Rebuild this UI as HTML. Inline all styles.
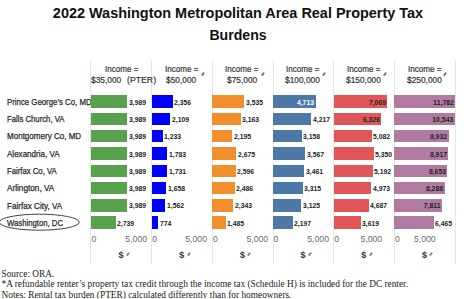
<!DOCTYPE html>
<html><head><meta charset="utf-8"><style>
html,body{margin:0;padding:0;background:#fff;width:474px;height:299px;overflow:hidden;position:relative}
.a{position:absolute;white-space:nowrap;line-height:1}
.t{font-family:"Liberation Sans",sans-serif;font-weight:bold;font-size:15px;color:#111;transform:scaleX(0.963);transform-origin:238px 0;left:0;width:476px;text-align:center}
.rl{font-family:"Liberation Sans",sans-serif;font-size:8.7px;color:#2a2a2a;-webkit-text-stroke:0.25px #2a2a2a;transform:scaleX(0.89);transform-origin:0 0;left:7px}
.hd{font-family:"Liberation Sans",sans-serif;font-size:8.8px;color:#333;-webkit-text-stroke:0.2px #333;transform-origin:0 0}
.bar{position:absolute}
.lb{font-family:"Liberation Sans",sans-serif;font-weight:bold;font-size:7.6px;color:#222;transform:scaleX(0.9);transform-origin:0 0}
.lbr{font-family:"Liberation Sans",sans-serif;font-weight:bold;font-size:7.6px;color:#222;transform:scaleX(0.9);transform-origin:100% 0;text-align:right}
.ax{font-family:"Liberation Sans",sans-serif;font-size:8.7px;color:#6a6a6a}
.vl{position:absolute;width:1px;background:#e6e6e6}
.fn{font-family:"Liberation Serif",serif;font-size:9.33px;color:#222;left:1.5px}
.dl{font-family:"Liberation Sans",sans-serif;font-weight:bold;font-size:9px;color:#333}
.ic{position:absolute;width:1.6px;height:4px;background:#777;transform:rotate(40deg);border-radius:0.8px}
</style></head><body>

<div class="a t" style="top:5px">2022 Washington Metropolitan Area Real Property Tax</div>
<div class="a t" style="top:27px;transform:scaleX(0.94)">Burdens</div>
<div class="vl" style="left:90.4px;top:60px;height:204px"></div>
<div class="vl" style="left:151.1px;top:60px;height:204px"></div>
<div class="vl" style="left:211.8px;top:60px;height:204px"></div>
<div class="vl" style="left:272.5px;top:60px;height:204px"></div>
<div class="vl" style="left:333.2px;top:60px;height:204px"></div>
<div class="vl" style="left:393.9px;top:60px;height:204px"></div>
<div class="vl" style="left:454.6px;top:60px;height:204px"></div>
<div class="a hd" style="left:104.6px;top:64.7px;transform:scaleX(0.915)">Income =</div>
<div class="a hd" style="left:91.0px;top:75.7px;transform:scaleX(0.95)">$35,000</div>
<div class="a hd" style="left:127.0px;top:75.7px;transform:scaleX(0.99)">(PTER)</div>
<div class="a hd" style="left:164.7px;top:64.7px;transform:scaleX(0.915)">Income =</div>
<div class="a hd" style="left:166.2px;top:75.7px;transform:scaleX(0.95)">$50,000</div>
<div class="ic" style="left:201.5px;top:72px"></div>
<div class="a hd" style="left:225.4px;top:64.7px;transform:scaleX(0.915)">Income =</div>
<div class="a hd" style="left:226.9px;top:75.7px;transform:scaleX(0.95)">$75,000</div>
<div class="ic" style="left:262.1px;top:72px"></div>
<div class="a hd" style="left:286.1px;top:64.7px;transform:scaleX(0.915)">Income =</div>
<div class="a hd" style="left:285.3px;top:75.7px;transform:scaleX(0.95)">$100,000</div>
<div class="ic" style="left:322.9px;top:72px"></div>
<div class="a hd" style="left:346.8px;top:64.7px;transform:scaleX(0.915)">Income =</div>
<div class="a hd" style="left:346.0px;top:75.7px;transform:scaleX(0.95)">$150,000</div>
<div class="ic" style="left:383.6px;top:72px"></div>
<div class="a hd" style="left:407.5px;top:64.7px;transform:scaleX(0.915)">Income =</div>
<div class="a hd" style="left:406.7px;top:75.7px;transform:scaleX(0.95)">$250,000</div>
<div class="ic" style="left:444.2px;top:72px"></div>
<div class="a rl" style="top:97.9px;transform:scaleX(0.9)">Prince George’s Co, MD</div>
<div class="bar" style="left:90.9px;top:95.4px;width:36.2px;height:12.6px;background:#59A14F"></div>
<div class="a lb" style="left:128.6px;top:98.7px">3,989</div>
<div class="bar" style="left:151.6px;top:95.4px;width:21.0px;height:12.6px;background:#0000FF"></div>
<div class="a lb" style="left:174.1px;top:98.7px">2,356</div>
<div class="bar" style="left:212.3px;top:95.4px;width:31.8px;height:12.6px;background:#F28E2B"></div>
<div class="a lb" style="left:245.6px;top:98.7px">3,535</div>
<div class="bar" style="left:273.0px;top:95.4px;width:42.6px;height:12.6px;background:#4E79A7"></div>
<div class="a lbr" style="right:159.6px;top:98.7px;color:#fff">4,713</div>
<div class="bar" style="left:333.7px;top:95.4px;width:53.2px;height:12.6px;background:#E15759"></div>
<div class="a lbr" style="right:88.3px;top:98.7px;color:#222">7,069</div>
<div class="bar" style="left:394.4px;top:95.4px;width:60.2px;height:12.6px;background:#B07AA1"></div>
<div class="a lbr" style="right:20.6px;top:98.7px;color:#222">11,782</div>
<div class="a rl" style="top:115.1px;transform:scaleX(0.89)">Falls Church, VA</div>
<div class="bar" style="left:90.9px;top:112.7px;width:36.2px;height:12.6px;background:#59A14F"></div>
<div class="a lb" style="left:128.6px;top:116.0px">3,989</div>
<div class="bar" style="left:151.6px;top:112.7px;width:18.8px;height:12.6px;background:#0000FF"></div>
<div class="a lb" style="left:171.9px;top:116.0px">2,109</div>
<div class="bar" style="left:212.3px;top:112.7px;width:28.5px;height:12.6px;background:#F28E2B"></div>
<div class="a lb" style="left:242.3px;top:116.0px">3,163</div>
<div class="bar" style="left:273.0px;top:112.7px;width:38.1px;height:12.6px;background:#4E79A7"></div>
<div class="a lb" style="left:312.6px;top:116.0px">4,217</div>
<div class="bar" style="left:333.7px;top:112.7px;width:47.6px;height:12.6px;background:#E15759"></div>
<div class="a lbr" style="right:93.9px;top:116.0px;color:#222">6,326</div>
<div class="bar" style="left:394.4px;top:112.7px;width:60.2px;height:12.6px;background:#B07AA1"></div>
<div class="a lbr" style="right:20.6px;top:116.0px;color:#222">10,543</div>
<div class="a rl" style="top:132.4px;transform:scaleX(0.925)">Montgomery Co, MD</div>
<div class="bar" style="left:90.9px;top:129.9px;width:36.2px;height:12.6px;background:#59A14F"></div>
<div class="a lb" style="left:128.6px;top:133.2px">3,989</div>
<div class="bar" style="left:151.6px;top:129.9px;width:11.0px;height:12.6px;background:#0000FF"></div>
<div class="a lb" style="left:164.1px;top:133.2px">1,233</div>
<div class="bar" style="left:212.3px;top:129.9px;width:19.8px;height:12.6px;background:#F28E2B"></div>
<div class="a lb" style="left:233.6px;top:133.2px">2,195</div>
<div class="bar" style="left:273.0px;top:129.9px;width:28.5px;height:12.6px;background:#4E79A7"></div>
<div class="a lb" style="left:303.0px;top:133.2px">3,158</div>
<div class="bar" style="left:333.7px;top:129.9px;width:38.2px;height:12.6px;background:#E15759"></div>
<div class="a lb" style="left:373.4px;top:133.2px">5,082</div>
<div class="bar" style="left:394.4px;top:129.9px;width:54.2px;height:12.6px;background:#B07AA1"></div>
<div class="a lbr" style="right:26.6px;top:133.2px;color:#222">8,932</div>
<div class="a rl" style="top:149.7px;transform:scaleX(0.925)">Alexandria, VA</div>
<div class="bar" style="left:90.9px;top:147.2px;width:36.2px;height:12.6px;background:#59A14F"></div>
<div class="a lb" style="left:128.6px;top:150.5px">3,989</div>
<div class="bar" style="left:151.6px;top:147.2px;width:15.9px;height:12.6px;background:#0000FF"></div>
<div class="a lb" style="left:169.0px;top:150.5px">1,783</div>
<div class="bar" style="left:212.3px;top:147.2px;width:24.1px;height:12.6px;background:#F28E2B"></div>
<div class="a lb" style="left:237.9px;top:150.5px">2,675</div>
<div class="bar" style="left:273.0px;top:147.2px;width:32.2px;height:12.6px;background:#4E79A7"></div>
<div class="a lb" style="left:306.7px;top:150.5px">3,567</div>
<div class="bar" style="left:333.7px;top:147.2px;width:40.2px;height:12.6px;background:#E15759"></div>
<div class="a lb" style="left:375.4px;top:150.5px">5,350</div>
<div class="bar" style="left:394.4px;top:147.2px;width:54.1px;height:12.6px;background:#B07AA1"></div>
<div class="a lbr" style="right:26.7px;top:150.5px;color:#222">8,917</div>
<div class="a rl" style="top:166.9px;transform:scaleX(0.89)">Fairfax Co, VA</div>
<div class="bar" style="left:90.9px;top:164.5px;width:36.2px;height:12.6px;background:#59A14F"></div>
<div class="a lb" style="left:128.6px;top:167.8px">3,989</div>
<div class="bar" style="left:151.6px;top:164.5px;width:15.4px;height:12.6px;background:#0000FF"></div>
<div class="a lb" style="left:168.5px;top:167.8px">1,731</div>
<div class="bar" style="left:212.3px;top:164.5px;width:23.4px;height:12.6px;background:#F28E2B"></div>
<div class="a lb" style="left:237.2px;top:167.8px">2,596</div>
<div class="bar" style="left:273.0px;top:164.5px;width:31.3px;height:12.6px;background:#4E79A7"></div>
<div class="a lb" style="left:305.8px;top:167.8px">3,461</div>
<div class="bar" style="left:333.7px;top:164.5px;width:39.0px;height:12.6px;background:#E15759"></div>
<div class="a lb" style="left:374.2px;top:167.8px">5,192</div>
<div class="bar" style="left:394.4px;top:164.5px;width:52.5px;height:12.6px;background:#B07AA1"></div>
<div class="a lbr" style="right:28.3px;top:167.8px;color:#222">8,653</div>
<div class="a rl" style="top:184.2px;transform:scaleX(0.945)">Arlington, VA</div>
<div class="bar" style="left:90.9px;top:181.8px;width:36.2px;height:12.6px;background:#59A14F"></div>
<div class="a lb" style="left:128.6px;top:185.1px">3,989</div>
<div class="bar" style="left:151.6px;top:181.8px;width:14.8px;height:12.6px;background:#0000FF"></div>
<div class="a lb" style="left:167.9px;top:185.1px">1,658</div>
<div class="bar" style="left:212.3px;top:181.8px;width:22.4px;height:12.6px;background:#F28E2B"></div>
<div class="a lb" style="left:236.2px;top:185.1px">2,486</div>
<div class="bar" style="left:273.0px;top:181.8px;width:29.9px;height:12.6px;background:#4E79A7"></div>
<div class="a lb" style="left:304.4px;top:185.1px">3,315</div>
<div class="bar" style="left:333.7px;top:181.8px;width:37.4px;height:12.6px;background:#E15759"></div>
<div class="a lb" style="left:372.6px;top:185.1px">4,973</div>
<div class="bar" style="left:394.4px;top:181.8px;width:50.3px;height:12.6px;background:#B07AA1"></div>
<div class="a lbr" style="right:30.5px;top:185.1px;color:#222">8,288</div>
<div class="a rl" style="top:201.5px;transform:scaleX(0.935)">Fairfax City, VA</div>
<div class="bar" style="left:90.9px;top:199.0px;width:36.2px;height:12.6px;background:#59A14F"></div>
<div class="a lb" style="left:128.6px;top:202.3px">3,989</div>
<div class="bar" style="left:151.6px;top:199.0px;width:13.9px;height:12.6px;background:#0000FF"></div>
<div class="a lb" style="left:167.0px;top:202.3px">1,562</div>
<div class="bar" style="left:212.3px;top:199.0px;width:21.1px;height:12.6px;background:#F28E2B"></div>
<div class="a lb" style="left:234.9px;top:202.3px">2,343</div>
<div class="bar" style="left:273.0px;top:199.0px;width:28.2px;height:12.6px;background:#4E79A7"></div>
<div class="a lb" style="left:302.7px;top:202.3px">3,125</div>
<div class="bar" style="left:333.7px;top:199.0px;width:35.2px;height:12.6px;background:#E15759"></div>
<div class="a lb" style="left:370.4px;top:202.3px">4,687</div>
<div class="bar" style="left:394.4px;top:199.0px;width:47.4px;height:12.6px;background:#B07AA1"></div>
<div class="a lbr" style="right:33.4px;top:202.3px;color:#222">7,811</div>
<div class="a rl" style="top:218.7px;transform:scaleX(0.89)">Washington, DC</div>
<div class="bar" style="left:90.9px;top:216.3px;width:24.8px;height:12.6px;background:#59A14F"></div>
<div class="a lb" style="left:117.2px;top:219.6px">2,739</div>
<div class="bar" style="left:151.6px;top:216.3px;width:6.9px;height:12.6px;background:#0000FF"></div>
<div class="a lb" style="left:160.0px;top:219.6px">774</div>
<div class="bar" style="left:212.3px;top:216.3px;width:13.4px;height:12.6px;background:#F28E2B"></div>
<div class="a lb" style="left:227.2px;top:219.6px">1,485</div>
<div class="bar" style="left:273.0px;top:216.3px;width:19.8px;height:12.6px;background:#4E79A7"></div>
<div class="a lb" style="left:294.3px;top:219.6px">2,197</div>
<div class="bar" style="left:333.7px;top:216.3px;width:27.2px;height:12.6px;background:#E15759"></div>
<div class="a lb" style="left:362.4px;top:219.6px">3,619</div>
<div class="bar" style="left:394.4px;top:216.3px;width:39.2px;height:12.6px;background:#B07AA1"></div>
<div class="a lb" style="left:435.1px;top:219.6px">6,465</div>
<svg class="a" style="left:0;top:0" width="474" height="299"><ellipse cx="39.3" cy="222.2" rx="40" ry="8" fill="none" stroke="#444" stroke-width="1"/></svg>
<div class="a ax" style="left:91.5px;top:235.4px">0</div>
<div class="a ax" style="left:125.2px;top:235.4px;width:22px;text-align:center">5,000</div>
<div class="a dl" style="left:118.5px;top:250.8px">$</div>
<div class="ic" style="left:126.9px;top:252.3px;background:#888"></div>
<div class="a ax" style="left:152.2px;top:235.4px">0</div>
<div class="a ax" style="left:185.1px;top:235.4px;width:22px;text-align:center">5,000</div>
<div class="a dl" style="left:179.2px;top:250.8px">$</div>
<div class="ic" style="left:187.6px;top:252.3px;background:#888"></div>
<div class="a ax" style="left:212.9px;top:235.4px">0</div>
<div class="a ax" style="left:246.3px;top:235.4px;width:22px;text-align:center">5,000</div>
<div class="a dl" style="left:239.9px;top:250.8px">$</div>
<div class="ic" style="left:248.3px;top:252.3px;background:#888"></div>
<div class="a ax" style="left:273.6px;top:235.4px">0</div>
<div class="a ax" style="left:307.1px;top:235.4px;width:22px;text-align:center">5,000</div>
<div class="a dl" style="left:300.6px;top:250.8px">$</div>
<div class="ic" style="left:309.0px;top:252.3px;background:#888"></div>
<div class="a ax" style="left:334.3px;top:235.4px">0</div>
<div class="a ax" style="left:360.3px;top:235.4px;width:22px;text-align:center">5,000</div>
<div class="a dl" style="left:361.3px;top:250.8px">$</div>
<div class="ic" style="left:369.7px;top:252.3px;background:#888"></div>
<div class="a ax" style="left:395.0px;top:235.4px">0</div>
<div class="a ax" style="left:413.8px;top:235.4px;width:22px;text-align:center">5,000</div>
<div class="a dl" style="left:422.0px;top:250.8px">$</div>
<div class="ic" style="left:430.4px;top:252.3px;background:#888"></div>
<div class="a fn" style="top:269.8px">Source: ORA.</div>
<div class="a fn" style="top:280.3px">*A refundable renter’s property tax credit through the income tax (Schedule H) is included for the DC renter.</div>
<div class="a fn" style="top:290.7px">Notes: Rental tax burden (PTER) calculated differently than for homeowners.</div>
</body></html>
